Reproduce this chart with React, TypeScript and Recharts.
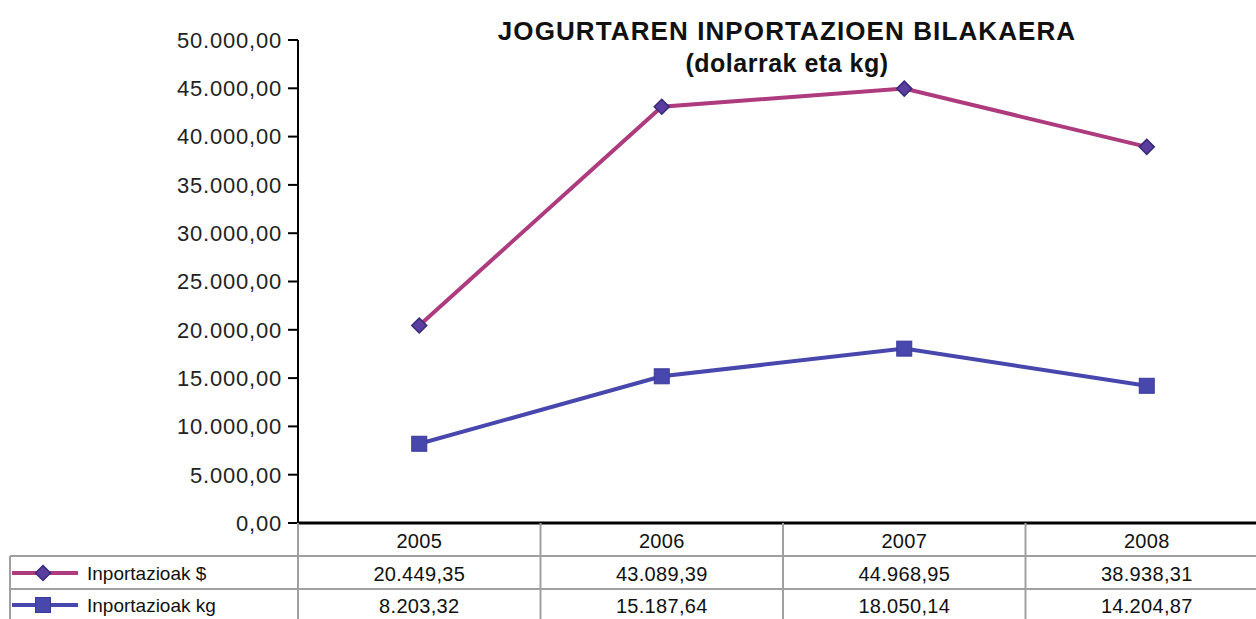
import { LineChart, Line, XAxis, YAxis } from 'recharts';

const years = ['2005', '2006', '2007', '2008'];
const dollarValues = [20449.35, 43089.39, 44968.95, 38938.31];
const kgValues = [8203.32, 15187.64, 18050.14, 14204.87];
const yTicks = [0, 5000, 10000, 15000, 20000, 25000, 30000, 35000, 40000, 45000, 50000];
const seriesNames = ['Inportazioak $', 'Inportazioak kg'];

const data = years.map((year, i) => ({ year, usd: dollarValues[i], kg: kgValues[i] }));

const W = 1268;
const H = 619;
const LEFT = 298;
const AXIS_H = 96;
const BAND = (W - LEFT) / years.length;
const FONT = '"Liberation Sans", Arial, Helvetica, sans-serif';
const PINK = '#ad3b7e';
const DIAMOND = '#5a3d9e';
const BLUE = '#4747ad';
const GRID = '#a0a0a0';

function fmt(v: number) {
  const [int, dec] = v.toFixed(2).split('.');
  return int.replace(/\B(?=(\d{3})+(?!\d))/g, '.') + ',' + dec;
}

const Diamond = ({ cx, cy }: any) => (
  <polygon
    points={`${cx},${cy - 7.5} ${cx + 7.5},${cy} ${cx},${cy + 7.5} ${cx - 7.5},${cy}`}
    fill={DIAMOND}
    stroke="#3a2a7a"
    strokeWidth={1.5}
  />
);

const Square = ({ cx, cy }: any) => (
  <rect x={cx - 7.5} y={cy - 7.5} width={15} height={15} fill={BLUE} stroke="#3a3a9a" strokeWidth={1} />
);

const TableTick = ({ x, y, payload }: any) => {
  const i = payload.index;
  return (
    <g fontFamily={FONT} fontSize={20} fill="#111" letterSpacing={0.3}>
      <line x1={x - BAND / 2} x2={x - BAND / 2} y1={y} y2={H} stroke={GRID} strokeWidth={2} />
      <text x={x} y={y + 25} textAnchor="middle">{payload.value}</text>
      <text x={x} y={y + 58} textAnchor="middle">{fmt(dollarValues[i])}</text>
      <text x={x} y={y + 90} textAnchor="middle">{fmt(kgValues[i])}</text>
    </g>
  );
};

export default function App() {
  return (
    <div style={{ position: 'absolute', left: 0, top: 0, width: 1256, height: H, overflow: 'hidden', background: '#fff' }}>
      <LineChart width={W} height={H} data={data} margin={{ top: 40, right: 0, left: 0, bottom: 0 }}>
        <XAxis
          dataKey="year"
          height={AXIS_H}
          interval={0}
          tickSize={0}
          tickMargin={0}
          padding={{ left: BAND / 2, right: BAND / 2 }}
          axisLine={{ stroke: '#000', strokeWidth: 3 }}
          tick={<TableTick />}
        />
        <YAxis
          width={LEFT}
          domain={[0, 50000]}
          ticks={yTicks}
          interval={0}
          tickSize={10}
          tickMargin={6}
          tickFormatter={fmt}
          axisLine={{ stroke: '#000', strokeWidth: 2 }}
          tickLine={{ stroke: '#000', strokeWidth: 2 }}
          tick={{ fontFamily: FONT, fontSize: 22, fill: '#222', letterSpacing: 0.8 }}
        />
        <Line dataKey="usd" name={seriesNames[0]} stroke={PINK} strokeWidth={4} dot={<Diamond />} isAnimationActive={false} />
        <Line dataKey="kg" name={seriesNames[1]} stroke={BLUE} strokeWidth={4} dot={<Square />} isAnimationActive={false} />
      </LineChart>
      <svg width={1256} height={H} style={{ position: 'absolute', left: 0, top: 0, pointerEvents: 'none' }}>
        <line x1={10} x2={1256} y1={556} y2={556} stroke={GRID} strokeWidth={2} />
        <line x1={10} x2={1256} y1={589} y2={589} stroke={GRID} strokeWidth={2} />
        <line x1={10} x2={10} y1={556} y2={H} stroke={GRID} strokeWidth={2} />
        <line x1={12} x2={78} y1={573} y2={573} stroke={PINK} strokeWidth={4} />
        <Diamond cx={43} cy={573} />
        <line x1={12} x2={78} y1={605} y2={605} stroke={BLUE} strokeWidth={4} />
        <Square cx={43} cy={605} />
        <g fontFamily={FONT} fontSize={19} fill="#111">
          <text x={87} y={580}>{seriesNames[0]}</text>
          <text x={87} y={612}>{seriesNames[1]}</text>
        </g>
        <g fontFamily={FONT} fontWeight="bold" fill="#111" textAnchor="middle">
          <text x={787} y={40} fontSize={26} letterSpacing={1.1}>JOGURTAREN INPORTAZIOEN BILAKAERA</text>
          <text x={787} y={72} fontSize={25} letterSpacing={0.5}>(dolarrak eta kg)</text>
        </g>
      </svg>
    </div>
  );
}
